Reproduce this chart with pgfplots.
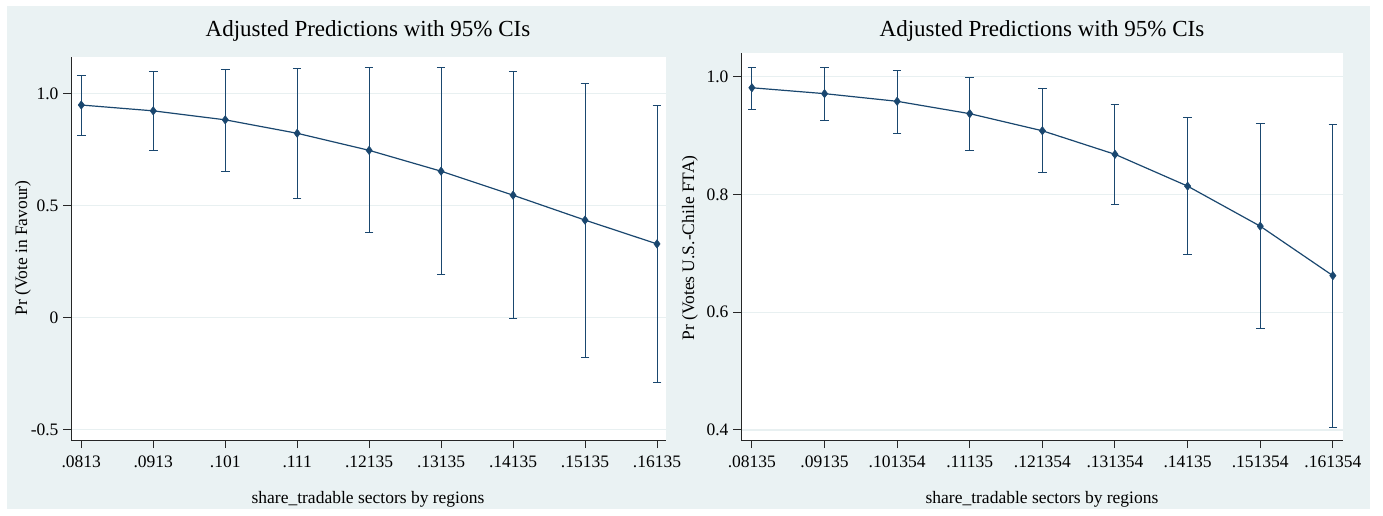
\documentclass[border=0pt]{standalone}
\usepackage{pgfplots}
\pgfplotsset{compat=1.18}
\usepackage{pgfplotstable}
\usepackage{fontspec}
\setmainfont{Liberation Serif}
\definecolor{bg}{HTML}{EAF2F3}
\definecolor{navy}{HTML}{1A476F}
\definecolor{gridc}{HTML}{E8F0F1}

\pgfplotstableread{
x y lo hi
0 0.948 0.812 1.080
1 0.922 0.746 1.096
2 0.882 0.651 1.105
3 0.822 0.531 1.110
4 0.746 0.378 1.116
5 0.653 0.191 1.116
6 0.546 -0.003 1.096
7 0.435 -0.179 1.046
8 0.329 -0.288 0.945
}\leftdata

\pgfplotstableread{
x y lo hi
0 0.981 0.944 1.016
1 0.971 0.925 1.016
2 0.958 0.903 1.011
3 0.937 0.875 0.999
4 0.908 0.837 0.979
5 0.868 0.783 0.953
6 0.814 0.698 0.930
7 0.746 0.572 0.921
8 0.662 0.405 0.919
}\rightdata

\pgfplotsset{
  stata/.style={
    scale only axis,
    anchor=south west,
    axis background/.style={fill=white},
    axis x line*=bottom,
    axis y line*=left,
    axis line style={-, black!85, line width=1pt},
    tick style={black!85, line width=1pt},
    tick align=outside,
    major tick length=8pt,
    minor tick num=0,
    ymajorgrids,
    grid style={gridc, line width=1.1pt},
    xtick={0,1,2,3,4,5,6,7,8},
    tick label style={font=\fontsize{17.5}{20}\selectfont, black},
    yticklabel style={xshift=-1pt},
    xticklabel style={yshift=-4pt},
  },
  ciplot/.style={
    navy, line width=1.2pt, mark=diamond*, mark size=4.2pt,
    mark options={solid, fill=navy, line width=0.5pt},
    error bars/.cd, y dir=both, y explicit,
    error bar style={navy, line width=1pt},
    error mark=-,
    error mark options={rotate=90, navy, mark size=4.3pt, line width=1pt},
  },
}

\begin{document}
\begin{tikzpicture}
\fill[white] (0pt,0pt) rectangle (1383pt,515pt);
\fill[bg] (7pt,6pt) rectangle (1370pt,509pt);

\begin{axis}[stata,
  at={(71pt,75pt)}, width=595pt, height=383pt,
  xmin=-0.143, xmax=8.125, ymin=-0.545, ymax=1.162,
  xticklabels={.0813,.0913,.101,.111,.12135,.13135,.14135,.15135,.16135},
  ytick={-0.5,0,0.5,1}, yticklabels={-0.5,0,0.5,1.0},
]
\addplot+[ciplot] table[x=x, y=y,
  y error plus expr=\thisrow{hi}-\thisrow{y},
  y error minus expr=\thisrow{y}-\thisrow{lo}] {\leftdata};
\end{axis}

\begin{axis}[stata,
  at={(741pt,75pt)}, width=602pt, height=387pt,
  xmin=-0.15, xmax=8.14, ymin=0.383, ymax=1.040,
  xticklabels={.08135,.09135,.101354,.11135,.121354,.131354,.14135,.151354,.161354},
  ytick={0.4,0.6,0.8,1.0}, yticklabels={0.4,0.6,0.8,1.0},
]
\addplot+[ciplot] table[x=x, y=y,
  y error plus expr=\thisrow{hi}-\thisrow{y},
  y error minus expr=\thisrow{y}-\thisrow{lo}] {\rightdata};
\end{axis}

\node[anchor=base, font=\fontsize{23}{26}\selectfont] at (368pt,478pt) {Adjusted Predictions with 95\% CIs};
\node[anchor=base, font=\fontsize{23}{26}\selectfont] at (1042pt,478pt) {Adjusted Predictions with 95\% CIs};
\node[anchor=base, font=\fontsize{17.5}{20}\selectfont] at (368pt,12pt) {share\_tradable sectors by regions};
\node[anchor=base, font=\fontsize{17.5}{20}\selectfont] at (1042pt,12pt) {share\_tradable sectors by regions};
\node[rotate=90, font=\fontsize{17.5}{20}\selectfont] at (23pt,267pt) {Pr (Vote in Favour)};
\node[rotate=90, font=\fontsize{17.5}{20}\selectfont] at (690pt,267pt) {Pr (Votes U.S.-Chile FTA)};
\end{tikzpicture}
\end{document}
